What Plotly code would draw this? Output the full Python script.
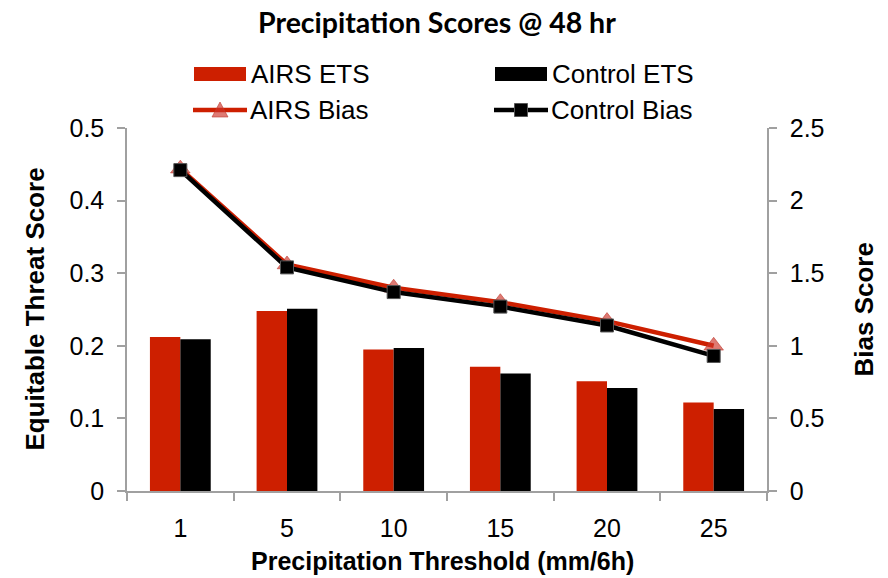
import plotly.graph_objects as go

# Precipitation threshold categories (mm/6h)
thresholds = ["1", "5", "10", "15", "20", "25"]

# Equitable threat scores (left axis)
airs_ets = [0.212, 0.248, 0.195, 0.171, 0.151, 0.122]
control_ets = [0.209, 0.251, 0.197, 0.162, 0.142, 0.113]

# Bias scores (right axis)
airs_bias = [2.22, 1.56, 1.40, 1.30, 1.17, 1.00]
control_bias = [2.21, 1.54, 1.37, 1.27, 1.14, 0.93]

RED = "#CD1F00"
BLACK = "#000000"
TRI = "rgba(205,50,40,0.65)"
AXIS = "#A0A0A0"
FONT = "Liberation Sans, Arial, sans-serif"
FS = 25

W, H = 888, 578
ML, MR, MT, MB = 127, 121, 128, 87
PW, PH = W - ML - MR, H - MT - MB


def px(x):
    return (x - ML) / PW


def py(y):
    return (H - MB - y) / PH


fig = go.Figure()
fig.add_trace(go.Bar(x=thresholds, y=airs_ets, name="AIRS ETS",
                     marker=dict(color=RED, line=dict(width=0))))
fig.add_trace(go.Bar(x=thresholds, y=control_ets, name="Control ETS",
                     marker=dict(color=BLACK, line=dict(width=0))))
fig.add_trace(go.Scatter(x=thresholds, y=airs_bias, name="AIRS Bias", yaxis="y2",
                         mode="lines+markers",
                         line=dict(color=RED, width=4.5),
                         marker=dict(symbol="triangle-up", size=17, color=TRI,
                                     line=dict(color="rgba(190,60,50,0.6)", width=1))))
fig.add_trace(go.Scatter(x=thresholds, y=control_bias, name="Control Bias", yaxis="y2",
                         mode="lines+markers",
                         line=dict(color=BLACK, width=4.5),
                         marker=dict(symbol="square", size=13, color=BLACK,
                                     line=dict(color="#555555", width=1))))

# Legend drawn as shapes + text, two columns
shapes = []
annotations = []
legend_items = [
    ("AIRS ETS", "bar", RED, 194, 74),
    ("Control ETS", "bar", BLACK, 495, 74),
    ("AIRS Bias", "tri", RED, 193, 110),
    ("Control Bias", "sq", BLACK, 494, 110),
]
for label, kind, col, x0, yc in legend_items:
    if kind == "bar":
        shapes.append(dict(type="rect", xref="paper", yref="paper",
                           x0=px(x0), x1=px(x0 + 52), y0=py(yc - 7), y1=py(yc + 7),
                           fillcolor=col, line=dict(width=0)))
    else:
        shapes.append(dict(type="line", xref="paper", yref="paper",
                           x0=px(x0), x1=px(x0 + 54), y0=py(yc), y1=py(yc),
                           line=dict(color=col, width=4.5)))
        cx = x0 + 27
        if kind == "tri":
            path = (f"M {px(cx - 8)} {py(yc + 7)} L {px(cx + 8)} {py(yc + 7)} "
                    f"L {px(cx)} {py(yc - 8)} Z")
            shapes.append(dict(type="path", xref="paper", yref="paper", path=path,
                               fillcolor=TRI, line=dict(color="rgba(190,60,50,0.6)", width=1)))
        else:
            shapes.append(dict(type="rect", xref="paper", yref="paper",
                               x0=px(cx - 6.5), x1=px(cx + 6.5), y0=py(yc + 6.5), y1=py(yc - 6.5),
                               fillcolor=BLACK, line=dict(color="#555555", width=1)))
    annotations.append(dict(text=label, xref="paper", yref="paper",
                            x=px(x0 + 55), y=py(yc), xanchor="left", yanchor="middle",
                            showarrow=False, font=dict(family=FONT, size=26, color="black")))

# Axis titles
annotations.append(dict(text="<b>Equitable Threat Score</b>", xref="paper", yref="paper",
                        x=px(34), y=0.5, textangle=-90, showarrow=False,
                        xanchor="center", yanchor="middle",
                        font=dict(family=FONT, size=26, color="black")))
annotations.append(dict(text="<b>Bias Score</b>", xref="paper", yref="paper",
                        x=px(863), y=0.5, textangle=-90, showarrow=False,
                        xanchor="center", yanchor="middle",
                        font=dict(family=FONT, size=26, color="black")))
annotations.append(dict(text="<b>Precipitation Threshold (mm/6h)</b>", xref="paper", yref="paper",
                        x=px(442), y=py(561), showarrow=False,
                        xanchor="center", yanchor="middle",
                        font=dict(family=FONT, size=25, color="black")))
annotations.append(dict(text="<b>Precipitation Scores @ 48 hr</b>", xref="paper", yref="paper",
                        x=px(437), y=py(22), showarrow=False,
                        xanchor="center", yanchor="middle",
                        font=dict(family="Lato, sans-serif", size=28.5, color="black")))

fig.update_layout(
    width=W, height=H,
    margin=dict(l=ML, r=MR, t=MT, b=MB, pad=0),
    paper_bgcolor="white", plot_bgcolor="white",
    showlegend=False,
    barmode="group", bargap=0.43, bargroupgap=0,
    font=dict(family=FONT, size=FS, color="black"),
    xaxis=dict(type="category", tickson="boundaries", ticks="outside", ticklen=8,
               tickcolor=AXIS, tickwidth=1.5, showline=True, linecolor=AXIS, linewidth=1.5,
               showgrid=False, tickfont=dict(size=FS), ticklabelstandoff=14),
    yaxis=dict(range=[0, 0.5], dtick=0.1, ticks="outside", ticklen=8, tickcolor=AXIS,
               tickwidth=1.5, showline=True, linecolor=AXIS, linewidth=1.5,
               showgrid=False, zeroline=False, tickfont=dict(size=FS), ticklabelstandoff=8),
    yaxis2=dict(range=[0, 2.5], dtick=0.5, overlaying="y", side="right", ticks="outside",
                ticklen=8, tickcolor=AXIS, tickwidth=1.5, showline=True, linecolor=AXIS,
                linewidth=1.5, showgrid=False, zeroline=False, tickfont=dict(size=FS),
                ticklabelstandoff=8),
    shapes=shapes,
    annotations=annotations,
)

fig.write_html("out.html")
